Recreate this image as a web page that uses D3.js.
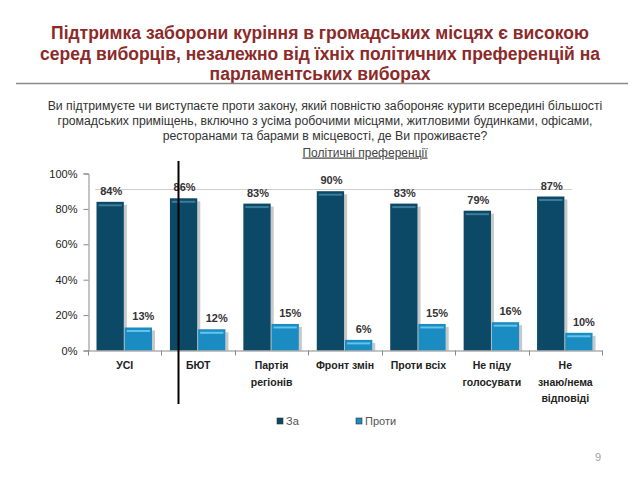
<!DOCTYPE html>
<html>
<head>
<meta charset="utf-8">
<script src="https://cdn.jsdelivr.net/npm/d3@7"></script>
<style>
  html, body { margin: 0; padding: 0; background: #fff; }
  svg { display: block; }
</style>
</head>
<body>
<svg id="chart" width="640" height="480"></svg>
<script>
// ---- data ----
const categories = ["УСІ", "БЮТ", "Партія регіонів", "Фронт змін", "Проти всіх", "Не піду голосувати", "Не знаю/нема відповіді"];
const categoryLines = [["УСІ"], ["БЮТ"], ["Партія", "регіонів"], ["Фронт змін"], ["Проти всіх"], ["Не піду", "голосувати"], ["Не", "знаю/нема", "відповіді"]];
const seriesNames = ["За", "Проти"];
const valuesFor = [84, 86, 83, 90, 83, 79, 87];
const valuesAgainst = [13, 12, 15, 6, 15, 16, 10];
const yTicks = [0, 20, 40, 60, 80, 100];
const titleLines = [
  "Підтримка заборони куріння в громадських місцях є високою",
  "серед виборців, незалежно від їхніх політичних преференцій на",
  "парламентських виборах"
];
const questionLines = [
  "Ви підтримуєте чи виступаєте проти закону, який повністю забороняє курити всередині більшості",
  "громадських приміщень, включно з усіма робочими місцями, житловими будинками, офісами,",
  "ресторанами та барами в місцевості, де Ви проживаєте?"
];
const subtitle = "Політичні преференції";
const pageNumber = "9";

const colors = { "За": "#0c4966", "Проти": "#1a8cc2" };
const highlight = { "За": "#3b7d9b", "Проти": "#63c3ea" };

const svg = d3.select("#chart");
const font = "'Liberation Sans', Arial, sans-serif";

// ---- title ----
const title = svg.append("g");
titleLines.forEach((t, i) => {
  title.append("text")
    .attr("x", 320).attr("y", 39 + i * 20.5)
    .attr("text-anchor", "middle")
    .attr("font-family", font).attr("font-weight", "bold")
    .attr("font-size", 16.5).attr("fill", "#8c2a2a")
    .text(t);
});
// fit first line to reference width
(function () {
  const nodes = title.selectAll("text").nodes();
  const w = nodes[0].getComputedTextLength();
  const fs = 16.5 * 538 / w;
  title.selectAll("text").attr("font-size", fs);
})();

svg.append("line")
  .attr("x1", 16).attr("x2", 628).attr("y1", 83.5).attr("y2", 83.5)
  .attr("stroke", "#8a8a8a").attr("stroke-width", 1.5);

// ---- question ----
const q = svg.append("g");
questionLines.forEach((t, i) => {
  q.append("text")
    .attr("x", 325).attr("y", 110 + i * 15)
    .attr("text-anchor", "middle")
    .attr("font-family", font).attr("font-size", 12).attr("fill", "#333")
    .text(t);
});
(function () {
  const nodes = q.selectAll("text").nodes();
  const w = nodes[0].getComputedTextLength();
  q.selectAll("text").attr("font-size", 12 * 555 / w);
})();

const sub = svg.append("text")
  .attr("x", 365).attr("y", 156.5)
  .attr("text-anchor", "middle")
  .attr("font-family", font).attr("font-size", 12).attr("fill", "#444")
  .attr("text-decoration", "underline")
  .text(subtitle);

// ---- scales ----
const x0 = d3.scaleBand().domain(categories).range([88, 602]).paddingInner(0).paddingOuter(0);
const x1 = d3.scaleBand().domain(seriesNames).range([8.5, 64]).paddingInner(0.03);
const y = d3.scaleLinear().domain([0, 100]).range([350.5, 173.5]);

// faint top reference line
svg.append("line")
  .attr("x1", 95).attr("x2", 572)
  .attr("y1", Math.round(y(91.5)) + 0.5).attr("y2", Math.round(y(91.5)) + 0.5)
  .attr("stroke", "#cfcfcf").attr("stroke-width", 1);

// ---- y axis ----
const yAxis = svg.append("g").attr("transform", "translate(88.5,0)")
  .call(d3.axisLeft(y).tickValues(yTicks).tickSize(5).tickFormat(d => d + "%"));
yAxis.select(".domain").attr("stroke", "#888");
yAxis.selectAll(".tick line").attr("stroke", "#888");
yAxis.selectAll("text").attr("font-family", font).attr("font-size", 11).attr("fill", "#222").attr("x", -11);

// ---- bars ----
const data = categories.map((c, i) => ({ cat: c, vals: [
  { s: "За", v: valuesFor[i] }, { s: "Проти", v: valuesAgainst[i] }] }));

const groups = svg.append("g").selectAll("g").data(data).join("g")
  .attr("transform", d => `translate(${x0(d.cat)},0)`);

// shadows
groups.selectAll("rect.shadow").data(d => d.vals).join("rect")
  .attr("class", "shadow")
  .attr("x", d => x1(d.s) + x1.bandwidth())
  .attr("y", d => y(d.v) + 3)
  .attr("width", 3)
  .attr("height", d => y(0) - y(d.v) - 3)
  .attr("fill", "#b5b5b5").attr("opacity", 0.75);

groups.selectAll("rect.bar").data(d => d.vals).join("rect")
  .attr("class", "bar")
  .attr("x", d => x1(d.s))
  .attr("y", d => y(d.v))
  .attr("width", x1.bandwidth())
  .attr("height", d => y(0) - y(d.v))
  .attr("fill", d => colors[d.s]);

groups.selectAll("rect.hl").data(d => d.vals).join("rect")
  .attr("class", "hl")
  .attr("x", d => x1(d.s) + 2)
  .attr("y", d => y(d.v) + 2.5)
  .attr("width", x1.bandwidth() - 4)
  .attr("height", 2)
  .attr("fill", d => highlight[d.s]);

groups.selectAll("text.val").data(d => d.vals).join("text")
  .attr("class", "val")
  .attr("x", d => x1(d.s) + x1.bandwidth() / 2 + (d.s === "За" ? 1 : 5))
  .attr("y", d => y(d.v) - 7)
  .attr("text-anchor", "middle")
  .attr("font-family", font).attr("font-weight", "bold")
  .attr("font-size", 11).attr("fill", "#333")
  .text(d => d.v + "%");

// ---- x axis ----
const xAxis = svg.append("g").attr("transform", "translate(0,350.5)")
  .call(d3.axisBottom(x0).tickSize(0).tickFormat(""));
xAxis.select(".domain").attr("stroke", "#888");
xAxis.selectAll(".tick").remove();
const bounds = categories.map(c => x0(c)).concat([x0.range()[1]]);
xAxis.selectAll("line.sep").data(bounds).join("line")
  .attr("class", "sep")
  .attr("x1", d => Math.round(d) + 0.5).attr("x2", d => Math.round(d) + 0.5)
  .attr("y1", 0).attr("y2", 5).attr("stroke", "#888");

const labels = svg.append("g").selectAll("text").data(categories).join("text")
  .attr("x", d => x0(d) + x0.bandwidth() / 2)
  .attr("y", 369)
  .attr("text-anchor", "middle")
  .attr("font-family", font).attr("font-weight", "bold")
  .attr("font-size", 10.5).attr("fill", "#222");
labels.each(function (d, i) {
  const t = d3.select(this);
  categoryLines[i].forEach((line, j) => {
    t.append("tspan").attr("x", x0(d) + x0.bandwidth() / 2).attr("y", 369 + j * 16.5).text(line);
  });
});

// ---- vertical black line ----
svg.append("line")
  .attr("x1", 178.5).attr("x2", 178.5).attr("y1", 161).attr("y2", 404)
  .attr("stroke", "#000").attr("stroke-width", 2);

// ---- legend ----
const legendX = { "За": 277, "Проти": 356 };
const legend = svg.append("g").selectAll("g").data(seriesNames).join("g")
  .attr("transform", d => `translate(${legendX[d]},418)`);
legend.append("rect").attr("width", 6).attr("height", 6)
  .attr("fill", d => colors[d]).attr("stroke", "#333").attr("stroke-width", 0.6);
legend.append("text").attr("x", 9).attr("y", 7)
  .attr("font-family", font).attr("font-size", 11).attr("fill", "#555")
  .text(d => d);

svg.append("text").attr("x", 598).attr("y", 461).attr("text-anchor", "middle")
  .attr("font-family", font).attr("font-size", 11).attr("fill", "#a0a0a0")
  .text(pageNumber);
</script>
</body>
</html>
